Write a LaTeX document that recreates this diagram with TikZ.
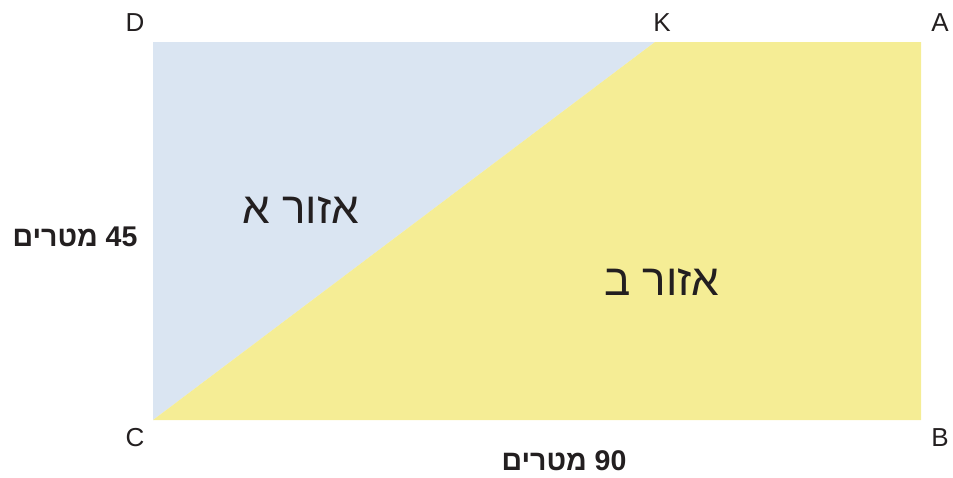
\documentclass[tikz,border=0pt]{standalone}
\usepackage{fontspec}
\setmainfont{Liberation Sans}
\newfontfamily\hebfont[Script=Hebrew]{Liberation Sans}
\TeXXeTstate=1
\definecolor{zoneA}{HTML}{DAE5F2}
\definecolor{zoneB}{HTML}{F5ED95}
\definecolor{ink}{HTML}{231F20}
\begin{document}
\begin{tikzpicture}[x=1pt,y=-1pt,
  vlabel/.style={text=ink,font=\fontsize{26}{26}\selectfont,inner sep=0pt},
  dimlabel/.style={text=ink,font=\hebfont\bfseries\fontsize{28.5}{28.5}\selectfont,inner sep=0pt},
  zonelabel/.style={text=ink,font=\hebfont\fontsize{44}{44}\selectfont,inner sep=0pt}]
\useasboundingbox (0,0) rectangle (953,477);
\coordinate (D) at (153,42);
\coordinate (K) at (655,42);
\coordinate (A) at (921,42);
\coordinate (B) at (921,420);
\coordinate (C) at (153,420);
\fill[zoneA] (D) -- (K) -- (C) -- cycle;
\fill[zoneB] (K) -- (A) -- (B) -- (C) -- cycle;
\node[vlabel] (lD) at (135,23) {D};
\node[vlabel] (lK) at (662,23) {K};
\node[vlabel] (lA) at (940,23) {A};
\node[vlabel] (lC) at (135,438) {C};
\node[vlabel] (lB) at (940,438) {B};
\node[dimlabel] (h) at (75,237) {\beginR\beginL45\endL{} מטרים\endR};
\node[dimlabel] (w) at (564,461) {\beginR\beginL90\endL{} מטרים\endR};
\node[zonelabel] (za) at (301,210) {\beginR אזור א\endR};
\node[zonelabel] (zb) at (662,282) {\beginR אזור ב\endR};
\end{tikzpicture}
\end{document}
